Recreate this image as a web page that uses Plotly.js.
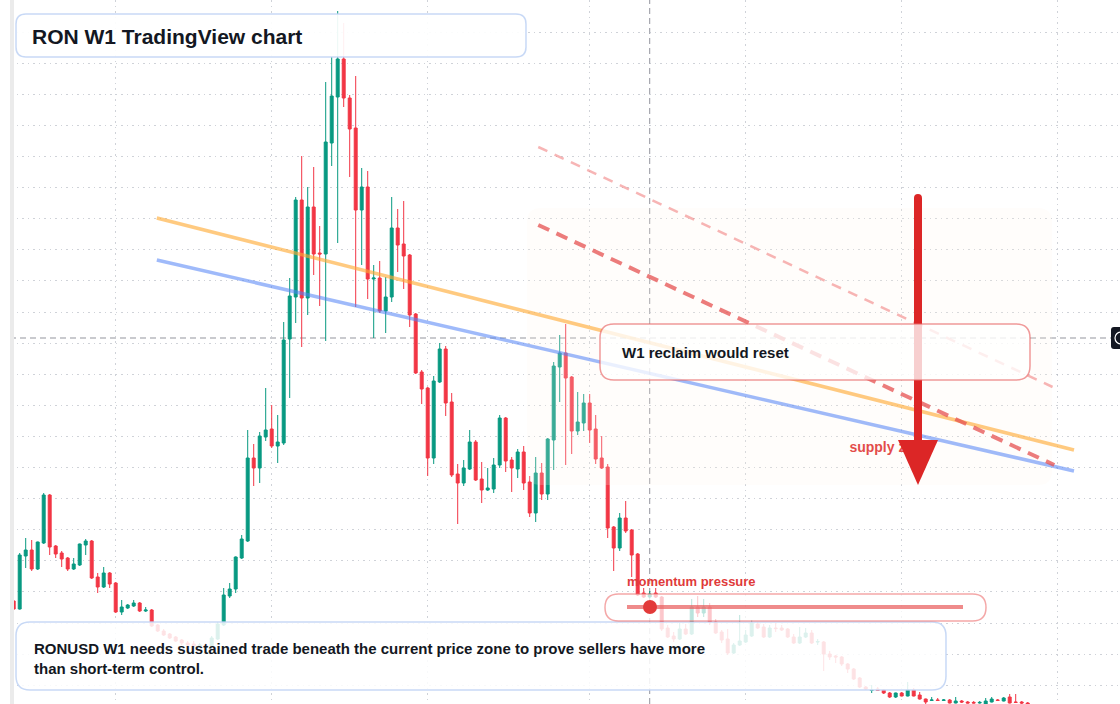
<!DOCTYPE html>
<html>
<head>
<meta charset="utf-8">
<script src="https://cdn.plot.ly/plotly-3.0.1.min.js"></script>
<style>
  html, body { margin: 0; padding: 0; background: #ffffff; }
  #chart { width: 1120px; height: 704px; }
</style>
</head>
<body>
<div id="chart"></div>
<script>
// ---------------- DATA (RONUSD, weekly candles) ----------------
const startDate = '2023-03-06';   // first weekly bar (Monday)

const open = [0.595,0.555,0.820,0.850,0.755,0.885,1.125,0.870,0.835,0.810,
  0.755,0.775,0.875,0.895,0.715,0.665,0.735,0.685,0.540,0.560,
  0.570,0.585,0.545,0.550,0.475,0.445,0.430,0.415,0.400,0.385,
  0.380,0.370,0.375,0.370,0.405,0.475,0.620,0.655,0.810,0.895,
  1.310,1.260,1.415,1.455,1.370,1.385,1.905,2.115,2.600,2.110,
  2.565,2.335,2.330,2.885,3.115,3.305,3.110,2.960,2.550,2.665,
  2.205,2.210,2.045,2.115,2.460,2.380,2.325,2.030,1.740,1.660,
  1.310,1.690,1.855,1.590,1.230,1.185,1.255,1.390,1.205,1.150,
  1.155,1.275,1.510,1.300,1.255,1.340,1.190,1.035,1.235,1.130,
  1.400,1.765,1.835,1.715,1.445,1.485,1.585,1.455,1.310,1.265,
  0.965,0.860,1.010,0.950,0.830,0.635,0.615,0.635,0.615,0.460,
  0.420,0.405,0.455,0.430,0.565,0.535,0.565,0.490,0.440,0.405,
  0.335,0.375,0.390,0.420,0.480,0.465,0.415,0.460,0.460,0.455,
  0.415,0.385,0.415,0.435,0.390,0.390,0.330,0.320,0.315,0.280,
  0.255,0.210,0.165,0.148,0.155,0.150,0.135,0.115,0.135,0.120,
  0.150,0.125,0.105,0.098,0.100,0.098,0.100,0.085,0.095,0.090,
  0.088,0.085,0.080,0.090,0.100,0.095,0.115,0.090,0.090,0.085];

const high = [0.600,0.835,0.910,0.900,0.892,1.135,1.130,0.875,0.845,0.815,
  0.810,0.882,0.905,0.900,0.735,0.765,0.740,0.690,0.600,0.580,
  0.600,0.590,0.565,0.555,0.480,0.455,0.435,0.420,0.405,0.395,
  0.395,0.385,0.385,0.420,0.490,0.660,0.685,0.818,0.925,1.450,
  1.380,1.440,1.660,1.575,1.525,1.990,2.210,2.615,2.820,2.665,
  2.765,2.470,3.190,3.315,3.545,3.485,3.125,3.220,2.760,2.745,
  2.275,2.295,2.215,2.615,2.555,2.595,2.330,2.035,1.750,1.665,
  1.720,1.885,1.870,1.635,1.280,1.300,1.450,1.400,1.290,1.260,
  1.310,1.525,1.515,1.315,1.355,1.370,1.220,1.315,1.285,1.410,
  1.790,1.925,1.980,1.720,1.640,1.630,1.630,1.525,1.420,1.280,
  0.970,1.035,1.095,0.955,0.835,0.660,0.645,0.660,0.620,0.475,
  0.440,0.485,0.480,0.605,0.620,0.605,0.585,0.505,0.450,0.455,
  0.385,0.525,0.450,0.500,0.490,0.480,0.475,0.485,0.475,0.460,
  0.430,0.465,0.460,0.450,0.405,0.395,0.345,0.325,0.320,0.285,
  0.260,0.215,0.170,0.175,0.165,0.155,0.140,0.137,0.140,0.190,
  0.160,0.140,0.107,0.115,0.110,0.105,0.105,0.115,0.100,0.095,
  0.095,0.095,0.110,0.115,0.105,0.115,0.130,0.130,0.095,0.090];

const low = [0.550,0.552,0.760,0.745,0.750,0.880,0.825,0.810,0.765,0.745,
  0.750,0.770,0.825,0.705,0.635,0.660,0.660,0.535,0.525,0.555,
  0.565,0.540,0.540,0.465,0.440,0.420,0.405,0.390,0.375,0.365,
  0.360,0.360,0.360,0.365,0.400,0.470,0.610,0.635,0.805,0.890,
  1.170,1.185,1.395,1.360,1.285,1.375,1.610,1.985,1.865,2.025,
  2.225,2.070,1.895,2.770,2.385,3.065,2.715,2.065,2.275,2.105,
  1.910,2.035,1.935,2.090,2.240,2.155,1.965,1.730,1.580,1.220,
  1.280,1.685,1.520,1.215,0.980,1.170,1.250,1.195,1.085,1.145,
  1.135,1.260,1.240,1.140,1.210,1.150,1.015,0.990,1.100,1.100,
  1.250,1.590,1.275,1.330,1.425,1.445,1.385,1.280,1.255,0.910,
  0.745,0.845,0.935,0.715,0.620,0.610,0.610,0.610,0.445,0.410,
  0.390,0.400,0.425,0.425,0.515,0.515,0.475,0.430,0.385,0.325,
  0.330,0.370,0.385,0.415,0.455,0.410,0.410,0.440,0.445,0.410,
  0.380,0.380,0.410,0.380,0.375,0.245,0.300,0.285,0.270,0.235,
  0.200,0.160,0.150,0.135,0.145,0.130,0.110,0.110,0.118,0.118,
  0.118,0.102,0.080,0.095,0.095,0.095,0.083,0.083,0.085,0.083,
  0.083,0.082,0.078,0.088,0.095,0.093,0.083,0.085,0.080,0.075];

const close = [0.555,0.825,0.850,0.755,0.890,1.125,0.865,0.830,0.805,0.755,
  0.780,0.880,0.895,0.710,0.665,0.735,0.680,0.540,0.565,0.575,
  0.585,0.545,0.550,0.470,0.445,0.425,0.410,0.395,0.385,0.375,
  0.370,0.375,0.370,0.410,0.480,0.625,0.655,0.815,0.905,1.310,
  1.260,1.420,1.450,1.370,1.390,1.900,2.120,2.600,2.110,2.565,
  2.330,2.330,2.890,3.120,3.305,3.110,2.955,2.550,2.665,2.205,
  2.210,2.045,2.115,2.460,2.375,2.320,2.025,1.735,1.655,1.310,
  1.695,1.855,1.585,1.225,1.185,1.260,1.390,1.200,1.150,1.160,
  1.275,1.510,1.295,1.260,1.340,1.185,1.035,1.235,1.130,1.405,
  1.770,1.835,1.710,1.445,1.490,1.585,1.450,1.305,1.260,0.960,
  0.860,1.010,0.945,0.825,0.625,0.615,0.630,0.615,0.455,0.415,
  0.405,0.455,0.430,0.565,0.535,0.565,0.490,0.435,0.400,0.335,
  0.375,0.395,0.425,0.485,0.460,0.415,0.460,0.457,0.450,0.415,
  0.385,0.415,0.435,0.385,0.392,0.330,0.315,0.315,0.280,0.255,
  0.205,0.165,0.155,0.150,0.148,0.135,0.115,0.135,0.120,0.150,
  0.120,0.105,0.090,0.100,0.098,0.100,0.085,0.095,0.090,0.085,
  0.085,0.088,0.095,0.105,0.098,0.110,0.085,0.088,0.085,0.080];

// vertical grid: first weekly bar of January / July
const gridDates = ['2023-07-03','2024-01-01','2024-07-01','2025-01-06','2025-07-07','2026-01-05','2026-07-06'];

// crosshair
const crossDate = '2025-03-17';
const crossPrice = 1.91;

// drawn trend lines (date, price)
const orangeLineX = ['2023-08-20', '2026-07-25'];
const orangeLineY = [2.51, 1.35];
const blueLineX   = ['2023-08-20', '2026-07-25'];
const blueLineY   = [2.30, 1.245];
const redDashX    = ['2024-11-07', '2026-07-02'];
const redDashY    = [2.475, 1.275];
const paleDashX   = ['2024-11-07', '2026-06-30'];
const paleDashY   = [2.865, 1.665];

// labels
const titleText   = 'RON W1 TradingView chart';
const noteText    = 'RONUSD W1 needs sustained trade beneath the current price zone to prove sellers have more<br>than short-term control.';
const reclaimText = 'W1 reclaim would reset';
const momentumText = 'momentum pressure';
const supplyText  = 'supply zone';
const supplyLabelX = ['2025-11-05'];
const supplyLabelY = [1.36];

// ---------------- LAYOUT HELPERS ----------------
const W = 1120, H = 704;
const WEEK = 7 * 864e5;
const t0 = Date.parse(startDate + 'T00:00:00Z');
const fmt = ms => new Date(ms).toISOString().replace('T', ' ').replace('Z', '');
const dates = open.map((_, i) => fmt(t0 + i * WEEK).slice(0, 10));
// axis calibration: first bar centred at 13.7px, 6px per weekly bar
const xRange = [fmt(t0 - 13.7 / 6 * WEEK), fmt(t0 + (W - 13.7) / 6 * WEEK)];
const yRange = [0.08, 3.6];

const PX = v => (v / W).toFixed(5);
const PY = v => (1 - v / H).toFixed(5);
function rr(x0, y0, x1, y1, r) {
  return `M${PX(x0 + r)},${PY(y0)} L${PX(x1 - r)},${PY(y0)} Q${PX(x1)},${PY(y0)} ${PX(x1)},${PY(y0 + r)} ` +
         `L${PX(x1)},${PY(y1 - r)} Q${PX(x1)},${PY(y1)} ${PX(x1 - r)},${PY(y1)} ` +
         `L${PX(x0 + r)},${PY(y1)} Q${PX(x0)},${PY(y1)} ${PX(x0)},${PY(y1 - r)} ` +
         `L${PX(x0)},${PY(y0 + r)} Q${PX(x0)},${PY(y0)} ${PX(x0 + r)},${PY(y0)} Z`;
}
function pLine(x0, y0, x1, y1, color, width, dash) {
  return {type: 'line', xref: 'paper', yref: 'paper', x0: +PX(x0), y0: +PY(y0), x1: +PX(x1), y1: +PY(y1),
          line: {color: color, width: width, dash: dash || 'solid'}, layer: 'above'};
}
function dLine(xs, ys, color, width, dash) {
  return {type: 'line', xref: 'x', yref: 'y', x0: xs[0], y0: ys[0], x1: xs[1], y1: ys[1],
          line: {color: color, width: width, dash: dash || 'solid'}, layer: 'above'};
}
function pPath(path, fill, lineColor, lineWidth) {
  return {type: 'path', xref: 'paper', yref: 'paper', path: path, fillcolor: fill,
          line: {color: lineColor || 'rgba(0,0,0,0)', width: lineWidth || 0}, layer: 'above'};
}

const FONT = 'Liberation Sans, Arial, Helvetica, sans-serif';
const DARK = '#131722';
const UP = '#089981', DOWN = '#F23645';

// ---------------- TRACES ----------------
const candles = {
  type: 'candlestick', x: dates, open: open, high: high, low: low, close: close,
  increasing: {line: {color: UP, width: 1}, fillcolor: UP},
  decreasing: {line: {color: DOWN, width: 1}, fillcolor: DOWN},
  whiskerwidth: 0, hoverinfo: 'skip', showlegend: false
};
const supplyLabel = {
  type: 'scatter', mode: 'text', x: supplyLabelX, y: supplyLabelY,
  text: ['<b>' + supplyText + '</b>'], textposition: 'middle right',
  textfont: {family: FONT, size: 14, color: '#dc2222'},
  hoverinfo: 'skip', showlegend: false, cliponaxis: false
};

// ---------------- SHAPES ----------------
const shapes = [
  // crosshair
  {type: 'line', xref: 'x', yref: 'paper', x0: crossDate, x1: crossDate, y0: 0, y1: 1,
   line: {color: 'rgba(120,123,134,0.8)', width: 1, dash: '6px,4px'}, layer: 'below'},
  {type: 'line', xref: 'paper', yref: 'y', x0: 0, x1: 1, y0: crossPrice, y1: crossPrice,
   line: {color: 'rgba(120,123,134,0.8)', width: 1, dash: '6px,4px'}, layer: 'below'},
  // left edge strip
  pPath(`M0,0 L${PX(10)},0 L${PX(10)},1 L0,1 Z`, '#ffffff'),
  pPath(`M${PX(10)},0 L${PX(14)},0 L${PX(14)},1 L${PX(10)},1 Z`, '#ebebeb'),
  // supply zone
  pPath(rr(527, 208, 1052, 485, 14), 'rgba(253,245,236,0.2)'),
  // trend lines
  dLine(orangeLineX, orangeLineY, 'rgba(255,170,50,0.62)', 3.5),
  dLine(blueLineX, blueLineY, 'rgba(80,130,245,0.55)', 3.5),
  dLine(paleDashX, paleDashY, 'rgba(240,120,120,0.55)', 2.5, '10px,8px'),
  dLine(redDashX, redDashY, 'rgba(230,80,80,0.75)', 4, '12px,8px'),
  // arrow
  pLine(918, 198, 918, 445, '#dc2626', 8),
  {type: 'circle', xref: 'paper', yref: 'paper', x0: +PX(914), x1: +PX(922), y0: +PY(202), y1: +PY(194),
   fillcolor: '#dc2626', line: {width: 0}, layer: 'above'},
  pPath(`M${PX(898)},${PY(440)} L${PX(938)},${PY(440)} L${PX(918)},${PY(485)} Z`, '#dc2626'),
  // boxes
  pPath(rr(16, 14, 526, 57, 10), 'rgba(255,255,255,0.92)', 'rgba(190,210,245,0.85)', 1.5),
  pPath(rr(16, 622, 946, 690, 14), 'rgba(255,255,255,0.86)', 'rgba(190,210,245,0.85)', 1.5),
  pPath(rr(600, 324, 1030, 380, 14), 'rgba(255,255,255,0.78)', 'rgba(232,100,100,0.65)', 1.5),
  pPath(rr(605, 594, 986, 621, 13.5), 'rgba(255,255,255,0.72)', 'rgba(236,110,110,0.6)', 1.5),
  pLine(627, 607, 963, 607, 'rgba(232,90,90,0.7)', 4),
  {type: 'circle', xref: 'paper', yref: 'paper', x0: +PX(643), x1: +PX(657), y0: +PY(614), y1: +PY(600),
   fillcolor: '#e23a3a', line: {width: 0}, layer: 'above'},
  // right price label
  pPath(rr(1111, 327, 1130, 349, 3), '#131722'),
  {type: 'circle', xref: 'paper', yref: 'paper', x0: +PX(1115), x1: +PX(1127), y0: +PY(344), y1: +PY(332),
   fillcolor: 'rgba(0,0,0,0)', line: {color: '#ffffff', width: 1.2}, layer: 'above'}
];

// ---------------- ANNOTATIONS ----------------
const annotations = [
  {xref: 'paper', yref: 'paper', x: +PX(30), y: +PY(36), xanchor: 'left', yanchor: 'middle',
   text: titleText, showarrow: false, font: {family: FONT, size: 21, color: DARK, weight: 700}},
  {xref: 'paper', yref: 'paper', x: +PX(32), y: +PY(658), xanchor: 'left', yanchor: 'middle', align: 'left',
   text: noteText, showarrow: false, font: {family: FONT, size: 15, color: DARK, weight: 700}},
  {xref: 'paper', yref: 'paper', x: +PX(620), y: +PY(353), xanchor: 'left', yanchor: 'middle',
   text: reclaimText, showarrow: false, font: {family: FONT, size: 15, color: DARK, weight: 700}},
  {xref: 'paper', yref: 'paper', x: +PX(625), y: +PY(582), xanchor: 'left', yanchor: 'middle',
   text: momentumText, showarrow: false, font: {family: FONT, size: 13, color: '#e03a3a', weight: 700}}
];

const gridColor = 'rgba(175,180,190,0.6)';
const layout = {
  width: W, height: H,
  margin: {l: 0, r: 0, t: 0, b: 0, pad: 0},
  paper_bgcolor: '#ffffff', plot_bgcolor: '#ffffff',
  showlegend: false, dragmode: false,
  xaxis: {type: 'date', range: xRange, tickmode: 'array', tickvals: gridDates,
          showgrid: true, gridcolor: gridColor, griddash: '1.5px,4px', gridwidth: 1,
          showticklabels: false, ticks: '', zeroline: false, showline: false,
          rangeslider: {visible: false}, fixedrange: true},
  yaxis: {range: yRange, tick0: 3.595, dtick: 0.1555,
          showgrid: true, gridcolor: gridColor, griddash: '1.5px,4px', gridwidth: 1,
          showticklabels: false, ticks: '', zeroline: false, showline: false, fixedrange: true},
  shapes: shapes,
  annotations: annotations
};

Plotly.newPlot('chart', [candles, supplyLabel], layout, {displayModeBar: false, staticPlot: true});
</script>
</body>
</html>
